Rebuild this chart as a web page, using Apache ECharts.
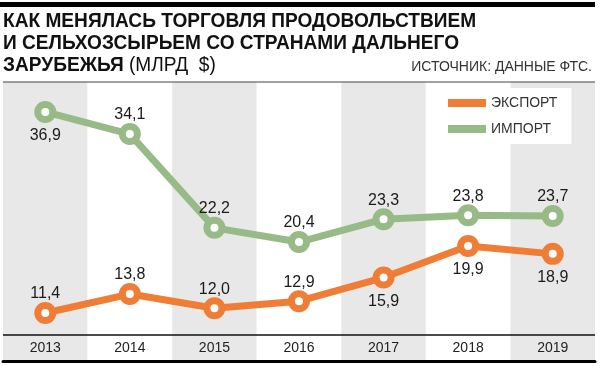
<!DOCTYPE html>
<html><head><meta charset="utf-8">
<script src="https://cdn.jsdelivr.net/npm/echarts@6/dist/echarts.min.js"></script>
<style>html,body{margin:0;padding:0;background:#fff}#c{width:600px;height:366px}</style>
</head><body><div id="c"></div>
<script>
var years = ['2013','2014','2015','2016','2017','2018','2019'];
var exportVals = [11.4, 13.8, 12.0, 12.9, 15.9, 19.9, 18.9];
var importVals = [36.9, 34.1, 22.2, 20.4, 23.3, 23.8, 23.7];
var exportBelow = [false, false, false, false, true, true, true];
var importBelow = [true, false, false, false, false, false, false];

var REG = '"Liberation Sans", Arial, sans-serif';
var ORANGE = '#ef7d36';
var GREEN = '#97ba86';
var TSX = 0.91;

function fmt(v){ return v.toFixed(1).replace('.', ','); }
function mk(vals, below){
  return vals.map(function(v, i){
    return {value: v, label: below[i] ? {position: 'bottom', distance: 5} : {position: 'top', distance: 0}};
  });
}
function series(name, vals, below, color){
  return {
    name: name, type: 'line', data: mk(vals, below),
    symbol: 'circle', symbolSize: 15,
    lineStyle: {color: color, width: 7},
    itemStyle: {color: '#fff', borderColor: color, borderWidth: 7},
    label: {show: true, color: '#1a1a1a', fontFamily: REG, fontSize: 16,
      formatter: function(p){ return fmt(p.value); }},
    emphasis: {disabled: true}, animation: false, z: 3
  };
}
function title(txt, y, rich){
  var st = {x: 0, y: 0, fill: '#111', textVerticalAlign: 'middle', font: 'bold 21px ' + REG, text: txt};
  if (rich) { st.rich = rich; }
  return {type: 'text', x: 3, y: y, scaleX: TSX, style: st};
}

var chart = echarts.init(document.getElementById('c'));
var s1 = series('ЭКСПОРТ', exportVals, exportBelow, ORANGE);
s1.markLine = {silent: true, symbol: 'none', label: {show: false},
  lineStyle: {color: '#111', width: 1.5, type: 'solid'}, data: [{yAxis: 8.61}], animation: false};
chart.setOption({
  animation: false,
  grid: {left: 3, right: 5, top: 82, bottom: 5},
  xAxis: {type: 'category', data: years, boundaryGap: true,
    axisLine: {show: true, lineStyle: {color: '#000', width: 3}},
    axisTick: {show: false},
    axisLabel: {inside: true, margin: 6, color: '#222', fontFamily: REG, fontSize: 14},
    splitArea: {show: true, areaStyle: {color: ['#e8e8e8', '#ffffff']}},
    splitLine: {show: false}},
  yAxis: {type: 'value', min: 5.31, max: 40.7, show: false, splitLine: {show: false}},
  legend: {orient: 'vertical', left: 436, top: 88, itemWidth: 38, itemHeight: 8, itemGap: 12,
    icon: 'rect', backgroundColor: '#fff', padding: [8, 14, 8, 12],
    textStyle: {color: '#333', fontFamily: REG, fontSize: 14},
    data: [{name: 'ЭКСПОРТ', itemStyle: {color: ORANGE, borderWidth: 0}},
           {name: 'ИМПОРТ', itemStyle: {color: GREEN, borderWidth: 0}}]},
  graphic: [
    {type: 'rect', left: 0, top: 2, shape: {width: 595, height: 5}, style: {fill: '#000'}},
    {type: 'rect', left: 3, top: 81.5, shape: {width: 592, height: 1}, style: {fill: '#444'}, z: 10},
    title('КАК МЕНЯЛАСЬ ТОРГОВЛЯ ПРОДОВОЛЬСТВИЕМ', 21),
    title('И СЕЛЬХОЗСЫРЬЕМ СО СТРАНАМИ ДАЛЬНЕГО', 43),
    title('{b|ЗАРУБЕЖЬЯ} {n|(МЛРД  $)}', 65, {b: {font: 'bold 21px ' + REG, fill: '#111'}, n: {font: '21px ' + REG, fill: '#111'}}),
    {type: 'text', right: 8, top: 60, style: {text: 'ИСТОЧНИК: ДАННЫЕ ФТС.', fill: '#333', font: '14px ' + REG}}
  ],
  series: [s1, series('ИМПОРТ', importVals, importBelow, GREEN)]
});
</script></body></html>
